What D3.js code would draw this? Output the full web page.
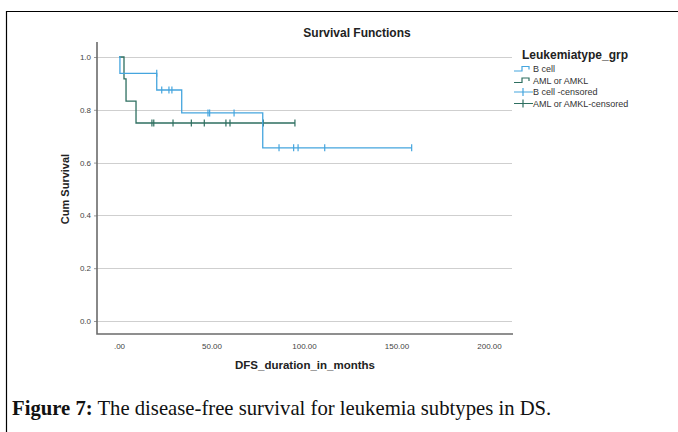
<!DOCTYPE html>
<html lang="en">
<head>
    <meta charset="UTF-8">
    <title>Survival Functions</title>
    <script src="https://d3js.org/d3.v7.min.js"></script>
    <style>
        body { margin: 0; background: #fff; }
        svg text { font-family: "Liberation Sans", Arial, sans-serif; }
    </style>
</head>
<body>
    <div id="chart"></div>

    <script>
    // values
    var groups = ["B cell", "AML or AMKL"];
    var legendLabels = ["B cell", "AML or AMKL", "B cell -censored", "AML or AMKL-censored"];
    var colors = ["#45a5de", "#2e6f60"];

    var bTimes = [0, 0.5, 20.4, 33.9, 77.7, 158.2];
    var bSurv  = [1.0, 0.938, 0.875, 0.788, 0.656, 0.656];
    var amlTimes = [0, 2.7, 3.8, 9.2, 95.1];
    var amlSurv  = [1.0, 0.917, 0.833, 0.75, 0.75];

    var bCensorT = [20.4, 23.1, 27.0, 28.6, 48.1, 49.0, 62.2, 86.5, 94.4, 96.8, 111.2, 158.2];
    var bCensorS = [0.938, 0.875, 0.875, 0.875, 0.788, 0.788, 0.788, 0.656, 0.656, 0.656, 0.656, 0.656];
    var amlCensorT = [17.8, 18.8, 29.2, 39.1, 46.1, 57.8, 60.0, 78.0, 95.1];
    var amlCensorS = [0.75, 0.75, 0.75, 0.75, 0.75, 0.75, 0.75, 0.75, 0.75];

    var xTicks = [0, 50, 100, 150, 200];
    var yTicks = [0, 0.2, 0.4, 0.6, 0.8, 1.0];

    var W = 678, H = 432;
    var plot = {left: 97, right: 513, top: 42, bottom: 334};

    var svg = d3.select("#chart").append("svg")
        .attr("width", W)
        .attr("height", H);

    // figure frame (runs off the right / bottom of the picture)
    svg.append("path")
        .attr("d", "M6.5," + H + "V11.5H" + W)
        .attr("fill", "none")
        .attr("stroke", "#000")
        .attr("stroke-width", 1.2);

    var x = d3.scaleLinear().domain([0, 200]).range([119, 489]);
    var y = d3.scaleLinear().domain([0, 1]).range([321, 57]);

    // grid lines
    svg.append("g").selectAll("line")
        .data(yTicks)
        .enter().append("line")
        .attr("x1", plot.left).attr("x2", plot.right - 1)
        .attr("y1", function(d) { return Math.round(y(d)) + 0.5; })
        .attr("y2", function(d) { return Math.round(y(d)) + 0.5; })
        .attr("stroke", "#cfcfcf")
        .attr("stroke-width", 1);

    // y axis
    var yAxis = d3.axisLeft(y)
        .tickValues(yTicks)
        .tickFormat(d3.format(".1f"))
        .tickSize(3)
        .tickPadding(3);
    var gy = svg.append("g")
        .attr("transform", "translate(" + plot.left + ",0)")
        .call(yAxis);
    gy.select(".domain").remove();
    gy.selectAll(".tick line").attr("stroke", "#999");
    gy.selectAll(".tick text").attr("fill", "#444").style("font-size", "8px");

    // x axis
    var xAxis = d3.axisBottom(x)
        .tickValues(xTicks)
        .tickFormat(function(d) { return d === 0 ? ".00" : d.toFixed(2); })
        .tickSize(0)
        .tickPadding(9);
    var gx = svg.append("g")
        .attr("transform", "translate(0," + plot.bottom + ")")
        .call(xAxis);
    gx.select(".domain").remove();
    gx.selectAll(".tick text").attr("fill", "#444").style("font-size", "8px");

    // axis frame lines
    svg.append("path")
        .attr("d", "M" + plot.left + "," + plot.top + "V" + plot.bottom + "H" + plot.right)
        .attr("fill", "none")
        .attr("stroke", "#6b6b6b")
        .attr("stroke-width", 1.6);

    // survival step curves
    var line = d3.line()
        .x(function(d) { return x(d[0]); })
        .y(function(d) { return y(d[1]); })
        .curve(d3.curveStepAfter);

    var curves = [d3.zip(bTimes, bSurv), d3.zip(amlTimes, amlSurv)];
    var censors = [d3.zip(bCensorT, bCensorS), d3.zip(amlCensorT, amlCensorS)];

    // AML drawn first so B cell sits on top like SPSS
    [1, 0].forEach(function(i) {
        svg.append("path")
            .datum(curves[i])
            .attr("d", line)
            .attr("fill", "none")
            .attr("stroke", colors[i])
            .attr("stroke-width", 1.3);

        svg.append("g").selectAll("line")
            .data(censors[i])
            .enter().append("line")
            .attr("x1", function(d) { return x(d[0]); })
            .attr("x2", function(d) { return x(d[0]); })
            .attr("y1", function(d) { return y(d[1]) - 3.5; })
            .attr("y2", function(d) { return y(d[1]) + 3.5; })
            .attr("stroke", colors[i])
            .attr("stroke-width", 1.2);
    });

    // titles
    svg.append("text")
        .attr("x", 357).attr("y", 36.5)
        .attr("text-anchor", "middle")
        .style("font-size", "12px").style("font-weight", "bold")
        .attr("fill", "#222")
        .text("Survival Functions");

    svg.append("text")
        .attr("transform", "translate(69,189) rotate(-90)")
        .attr("text-anchor", "middle")
        .style("font-size", "11px").style("font-weight", "bold")
        .attr("fill", "#222")
        .text("Cum Survival");

    svg.append("text")
        .attr("x", 305).attr("y", 369)
        .attr("text-anchor", "middle")
        .style("font-size", "11.5px").style("font-weight", "bold")
        .attr("fill", "#222")
        .text("DFS_duration_in_months");

    // legend
    var leg = svg.append("g");
    leg.append("text")
        .attr("x", 522).attr("y", 58.5)
        .style("font-size", "12px").style("font-weight", "bold")
        .attr("fill", "#222")
        .text("Leukemiatype_grp");

    var rowY = [69, 80.5, 92, 103.5];
    legendLabels.forEach(function(lab, i) {
        var c = colors[i % 2], yy = rowY[i];
        if (i < 2) {
            leg.append("path")
                .attr("d", "M514," + (yy + 2) + "H522V" + (yy - 2.5) + "H529V" + (yy + 0.5))
                .attr("fill", "none").attr("stroke", c).attr("stroke-width", 1.2);
        } else {
            leg.append("path")
                .attr("d", "M514," + yy + "H533M523," + (yy - 4) + "V" + (yy + 4))
                .attr("fill", "none").attr("stroke", c).attr("stroke-width", 1.2);
        }
        leg.append("text")
            .attr("x", 533).attr("y", yy + 3.2)
            .style("font-size", "9px")
            .attr("fill", "#333")
            .text(lab);
    });

    // caption
    var cap = svg.append("text")
        .attr("x", 12).attr("y", 415)
        .style("font-family", "'Liberation Serif', 'Times New Roman', serif")
        .style("font-size", "20.7px")
        .attr("fill", "#111");
    cap.append("tspan").style("font-weight", "bold").text("Figure 7:");
    cap.append("tspan").text(" The disease-free survival for leukemia subtypes in DS.");
    </script>
</body>
</html>
